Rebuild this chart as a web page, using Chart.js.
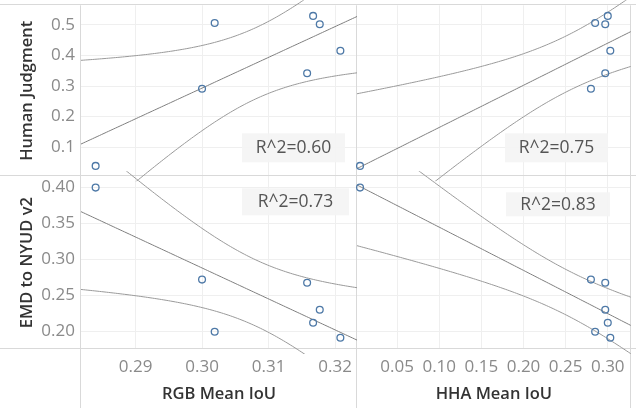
<!DOCTYPE html>
<html><head><meta charset="utf-8">
<script src="https://cdn.jsdelivr.net/npm/chart.js@4"></script>
<style>html,body{margin:0;padding:0;background:#fff}canvas{display:block}</style>
</head><body>
<canvas id="c" width="636" height="408"></canvas>
<script>
// ---- data (one entry per item) ----
const rgbMeanIoU    = [0.2840, 0.3000, 0.3019, 0.3158, 0.3167, 0.3177, 0.3208];
const hhaMeanIoU    = [0.006, 0.280, 0.285, 0.297, 0.300, 0.297, 0.303];
const humanJudgment = [0.039, 0.291, 0.506, 0.3415, 0.529, 0.502, 0.415];
const emdToNyudV2   = [0.400, 0.272, 0.1995, 0.2675, 0.212, 0.230, 0.191];
// ---- tick labels ----
const rgbTicks   = [0.29, 0.30, 0.31, 0.32];
const hhaTicks   = [0.05, 0.10, 0.15, 0.20, 0.25, 0.30];
const humanTicks = [0.1, 0.2, 0.3, 0.4, 0.5];
const emdTicks   = [0.20, 0.25, 0.30, 0.35, 0.40];
const r2Labels   = ['R^2=0.60', 'R^2=0.75', 'R^2=0.73', 'R^2=0.83'];
// ---- axis ranges ----
const rgbRange   = [0.2818, 0.3233];
const hhaRange   = [0.0024, 0.3272];
const humanRange = [0.005, 0.5637];
const emdRange   = [0.1754, 0.4157];

Chart.defaults.font.family = "'Open Sans', 'Noto Sans', sans-serif";

// linear trend with 95% confidence band of the mean (computed from the data)
function trend(xs, ys, range, steps) {
  const n = xs.length;
  const mx = xs.reduce((a, b) => a + b, 0) / n;
  const my = ys.reduce((a, b) => a + b, 0) / n;
  let sxx = 0, sxy = 0;
  for (let i = 0; i < n; i++) { sxx += (xs[i] - mx) ** 2; sxy += (xs[i] - mx) * (ys[i] - my); }
  const b = sxy / sxx, a = my - b * mx;
  let sse = 0;
  for (let i = 0; i < n; i++) sse += (ys[i] - (a + b * xs[i])) ** 2;
  const s = Math.sqrt(sse / (n - 2));
  const tTable = {1: 12.706, 2: 4.303, 3: 3.182, 4: 2.776, 5: 2.571, 6: 2.447, 7: 2.365, 8: 2.306};
  const t = tTable[n - 2] || 2.0;
  const fit = [], up = [], lo = [];
  for (let k = 0; k <= steps; k++) {
    const x = range[0] + (range[1] - range[0]) * k / steps;
    const yh = a + b * x;
    const h = t * s * Math.sqrt(1 / n + (x - mx) ** 2 / sxx);
    fit.push({x, y: yh}); up.push({x, y: yh + h}); lo.push({x, y: yh - h});
  }
  return {fit, up, lo};
}

const panels = [
  {xId: 'x1', yId: 'y1', xs: rgbMeanIoU, ys: humanJudgment, xr: rgbRange},
  {xId: 'x2', yId: 'y1', xs: hhaMeanIoU, ys: humanJudgment, xr: hhaRange},
  {xId: 'x1', yId: 'y2', xs: rgbMeanIoU, ys: emdToNyudV2, xr: rgbRange},
  {xId: 'x2', yId: 'y2', xs: hhaMeanIoU, ys: emdToNyudV2, xr: hhaRange},
];

const pointSets = [], lineSets = [];
panels.forEach(p => {
  pointSets.push({
    type: 'scatter', xAxisID: p.xId, yAxisID: p.yId,
    data: p.xs.map((x, i) => ({x, y: p.ys[i]})),
    pointRadius: 3.4, pointBorderWidth: 1.3, pointBorderColor: '#4e79a7',
    pointBackgroundColor: 'rgba(255,255,255,0)', borderColor: '#4e79a7',
    backgroundColor: 'rgba(255,255,255,0)', clip: false, showLine: false
  });
  const tr = trend(p.xs, p.ys, p.xr, 120);
  [[tr.fit, '#7f7f7f'], [tr.up, '#9a9a9a'], [tr.lo, '#9a9a9a']].forEach(([d, c]) => {
    lineSets.push({
      type: 'line', xAxisID: p.xId, yAxisID: p.yId, data: d,
      borderColor: c, borderWidth: 1, pointRadius: 0, tension: 0, fill: false, clip: false
    });
  });
});

// fixed facet split (column widths / row heights as weights)
const colWeights = [278, 275];
const rowWeights = [171, 173];
const facetLayout = {
  id: 'facetLayout',
  afterLayout(chart) {
    const a = chart.chartArea, s = chart.scales;
    const wL = Math.round(a.width * colWeights[0] / (colWeights[0] + colWeights[1]));
    const hT = Math.round(a.height * rowWeights[0] / (rowWeights[0] + rowWeights[1]));
    const setX = (sc, l, r) => { sc.left = l; sc.right = r; sc.width = r - l; sc.configure(); };
    const setY = (sc, t, b) => { sc.top = t; sc.bottom = b; sc.height = b - t; sc.configure(); };
    setX(s.x1, a.left, a.left + wL);
    setX(s.x2, a.left + wL, a.right);
    setY(s.y1, a.top, a.top + hT);
    setY(s.y2, a.top + hT, a.bottom);
  }
};

const panelClip = {
  id: 'panelClip',
  beforeDatasetDraw(chart, args) {
    const m = args.meta, ctx = chart.ctx, bl = 5;
    ctx.save();
    ctx.beginPath();
    ctx.rect(m.xScale.left - bl, m.yScale.top - bl,
             m.xScale.right - m.xScale.left + 2 * bl, m.yScale.bottom - m.yScale.top + 2 * bl);
    ctx.clip();
  },
  afterDatasetDraw(chart) { chart.ctx.restore(); }
};

const frame = {
  id: 'frame',
  beforeDatasetsDraw(chart) {
    const {ctx, chartArea: a, scales: s} = chart;
    ctx.save();
    ctx.strokeStyle = '#d9d9d9';
    ctx.lineWidth = 1;
    const hy = [a.top, s.y1.bottom, a.bottom];
    const vx = [a.left, s.x1.right, a.right];
    ctx.beginPath();
    hy.forEach(y => { const yy = Math.round(y) - 0.5; ctx.moveTo(0, yy); ctx.lineTo(chart.width, yy); });
    vx.forEach(x => { const xx = Math.round(x) - 0.5; ctx.moveTo(xx, a.top); ctx.lineTo(xx, chart.height); });
    ctx.stroke();
    ctx.restore();
  }
};

const r2Boxes = {
  id: 'r2Boxes',
  afterDraw(chart) {
    const {ctx, scales: s} = chart;
    const spots = [
      {xs: s.x1, ys: s.y1, dx: 161, dy: 128, w: 103, h: 29},
      {xs: s.x2, ys: s.y1, dx: 148, dy: 128, w: 103, h: 29},
      {xs: s.x1, ys: s.y2, dx: 161, dy: 12, w: 107, h: 27},
      {xs: s.x2, ys: s.y2, dx: 149, dy: 16, w: 104, h: 24},
    ];
    ctx.save();
    spots.forEach((p, i) => {
      const x = p.xs.left + p.dx, y = p.ys.top + p.dy;
      ctx.fillStyle = 'rgba(244,244,244,0.92)';
      ctx.fillRect(x, y, p.w, p.h);
      ctx.fillStyle = '#555555';
      ctx.font = "17.5px 'Open Sans', 'Noto Sans', sans-serif";
      ctx.textAlign = 'center';
      ctx.textBaseline = 'middle';
      ctx.fillText(r2Labels[i], x + p.w / 2, y + p.h / 2 + 0.5);
    });
    ctx.restore();
  }
};

function setTicks(values) { return sc => { sc.ticks = values.map(v => ({value: v})); }; }
function noPad(sc) { sc.paddingTop = 0; sc.paddingBottom = 0; sc.paddingLeft = 0; sc.paddingRight = 0; }
const tickFont = {size: 17};
const titleFont = {size: 16.5, weight: '600'};
const gridOpt = {color: '#efefef', lineWidth: 1, drawTicks: false};

function xAxis(range, ticks, title, weight) {
  return {
    type: 'linear', position: 'bottom', stack: 'cols', stackWeight: weight,
    min: range[0], max: range[1],
    afterBuildTicks: setTicks(ticks),
    afterFit: sc => { sc.height = 59; noPad(sc); },
    grid: gridOpt, border: {display: false},
    ticks: {font: tickFont, color: '#8a8a8a', padding: 8, autoSkip: false, maxRotation: 0,
            callback: v => Number(v).toFixed(2)},
    title: {display: true, text: title, font: titleFont, color: '#333333', padding: {top: 0, bottom: 4}}
  };
}
function yAxis(range, ticks, title, weight, dec) {
  return {
    type: 'linear', position: 'left', stack: 'rows', stackWeight: weight,
    min: range[0], max: range[1],
    afterBuildTicks: setTicks(ticks),
    afterFit: sc => { sc.width = 81; noPad(sc); },
    grid: gridOpt, border: {display: false},
    ticks: {font: tickFont, color: '#8a8a8a', padding: 6, autoSkip: false,
            callback: v => Number(v).toFixed(dec)},
    title: {display: true, text: title, font: titleFont, color: '#333333', padding: {top: 17, bottom: 0}}
  };
}

new Chart(document.getElementById('c'), {
  data: {datasets: pointSets.concat(lineSets)},
  options: {
    responsive: false, animation: false, devicePixelRatio: 1,
    layout: {padding: {top: 5, right: 2, left: 0, bottom: 0}},
    plugins: {legend: {display: false}, tooltip: {enabled: false}},
    scales: {
      x1: xAxis(rgbRange, rgbTicks, 'RGB Mean IoU', 278),
      x2: xAxis(hhaRange, hhaTicks, 'HHA Mean IoU', 275),
      y1: yAxis(humanRange, humanTicks, 'Human Judgment', 171, 1),
      y2: yAxis(emdRange, emdTicks, 'EMD to NYUD v2', 173, 2)
    }
  },
  plugins: [facetLayout, panelClip, frame, r2Boxes]
});
</script>
</body></html>
